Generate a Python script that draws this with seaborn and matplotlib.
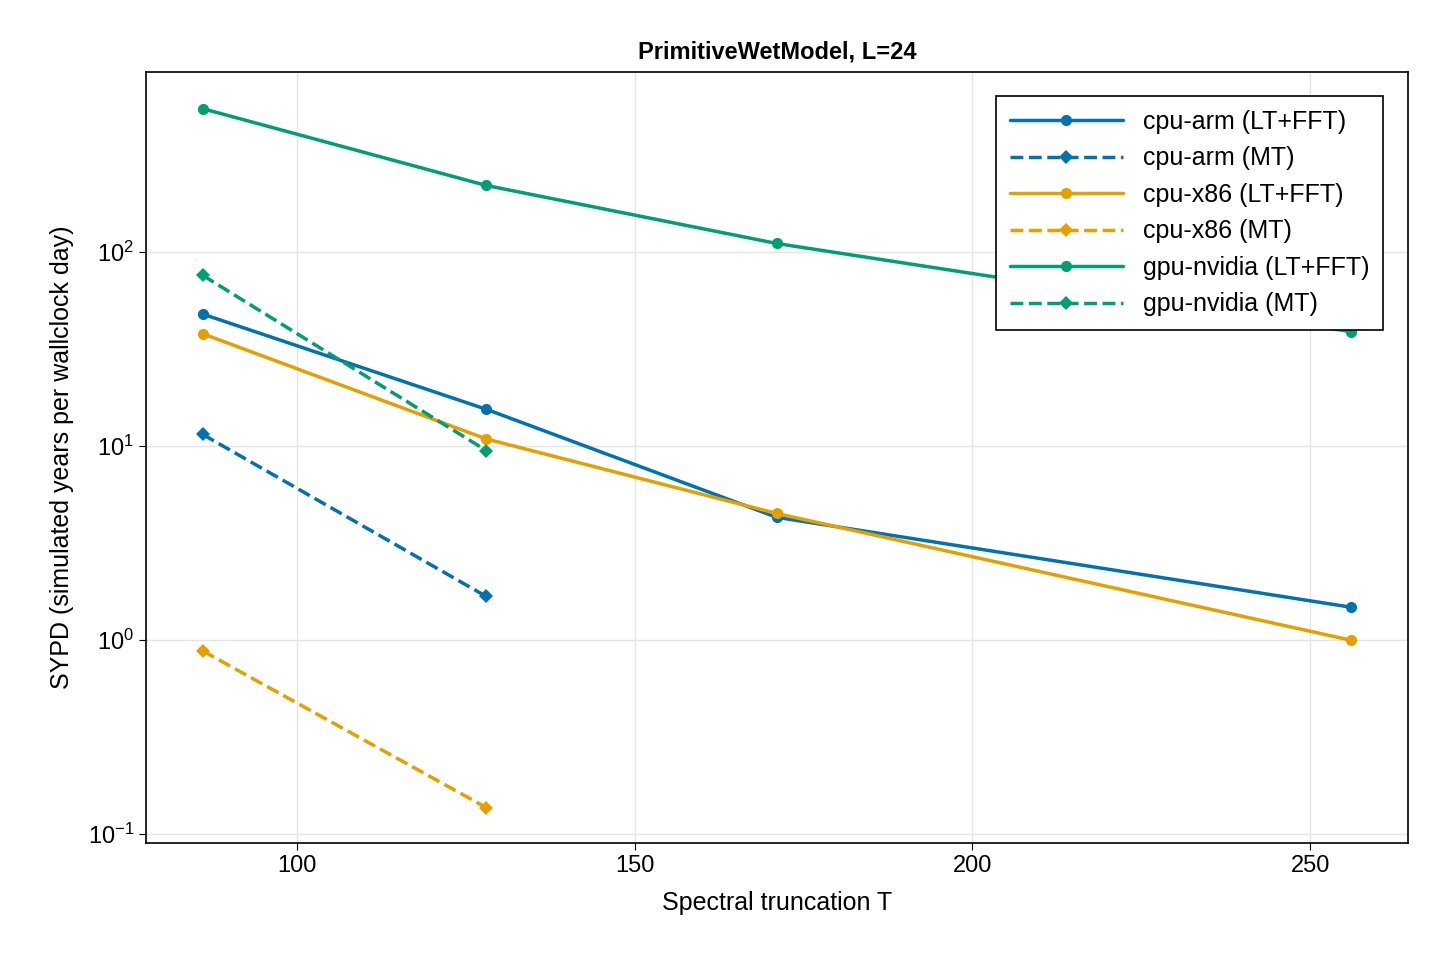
import numpy as np
import pandas as pd
import matplotlib
matplotlib.use("Agg")
import matplotlib.pyplot as plt
import seaborn as sns

trunc = [86, 128, 171, 256]
trunc_mt = [86, 128]
arm_lt = [48, 15.5, 4.3, 1.48]
arm_mt = [11.5, 1.68]
x86_lt = [38, 10.9, 4.5, 1.0]
x86_mt = [0.88, 0.137]
gpu_lt = [550, 221, 111, 39]
gpu_mt = [76, 9.5]

sns.set_style("white")
plt.rcParams['font.family'] = ['Liberation Sans', 'DejaVu Sans']
plt.rcParams.update({"text.color": "black", "axes.labelcolor": "black",
                     "xtick.color": "black", "ytick.color": "black"})

blue, orange, green = "#0072B2", "#E69F00", "#009E73"
series = [
    ("cpu-arm (LT+FFT)", trunc, arm_lt, blue, "-", "o"),
    ("cpu-arm (MT)", trunc_mt, arm_mt, blue, "--", "D"),
    ("cpu-x86 (LT+FFT)", trunc, x86_lt, orange, "-", "o"),
    ("cpu-x86 (MT)", trunc_mt, x86_mt, orange, "--", "D"),
    ("gpu-nvidia (LT+FFT)", trunc, gpu_lt, green, "-", "o"),
    ("gpu-nvidia (MT)", trunc_mt, gpu_mt, green, "--", "D"),
]

fig = plt.figure(figsize=(14.4, 9.6), dpi=100)
ax = fig.add_axes([146/1440, 1-843/960, (1408-146)/1440, (843-72)/960])
for name, x, y, c, ls, m in series:
    df = pd.DataFrame({"T": x, "SYPD": y})
    sns.lineplot(data=df, x="T", y="SYPD", ax=ax, color=c, linestyle=ls, marker=m,
                 markersize=8 if m == "o" else 7, markeredgewidth=0, linewidth=2.5, label=name)
ax.set_yscale("log")
ax.set_ylim(0.09, 850)
ax.set_xlim(77.6, 264.5)
ax.set_xticks([100, 150, 200, 250])
ax.grid(True, color="#e5e5e5", linewidth=1)
for s in ax.spines.values():
    s.set_color("black"); s.set_linewidth(1.2)
ax.tick_params(labelsize=17, left=True, bottom=True, length=5)
ax.tick_params(which="minor", left=False)
ax.set_xlabel("Spectral truncation T", fontsize=18, labelpad=10)
ax.set_ylabel("SYPD (simulated years per wallclock day)", fontsize=18, labelpad=10)
ax.set_title("PrimitiveWetModel, L=24", fontsize=17, fontweight="bold", pad=10)
leg = ax.legend(loc="upper right", fontsize=18, fancybox=False, framealpha=1,
                edgecolor="black", handlelength=4.5, borderpad=0.55, labelspacing=0.5,
                bbox_to_anchor=(0.99, 0.985))
leg.get_frame().set_linewidth(1.2)
fig.savefig("out.png", dpi=100)
